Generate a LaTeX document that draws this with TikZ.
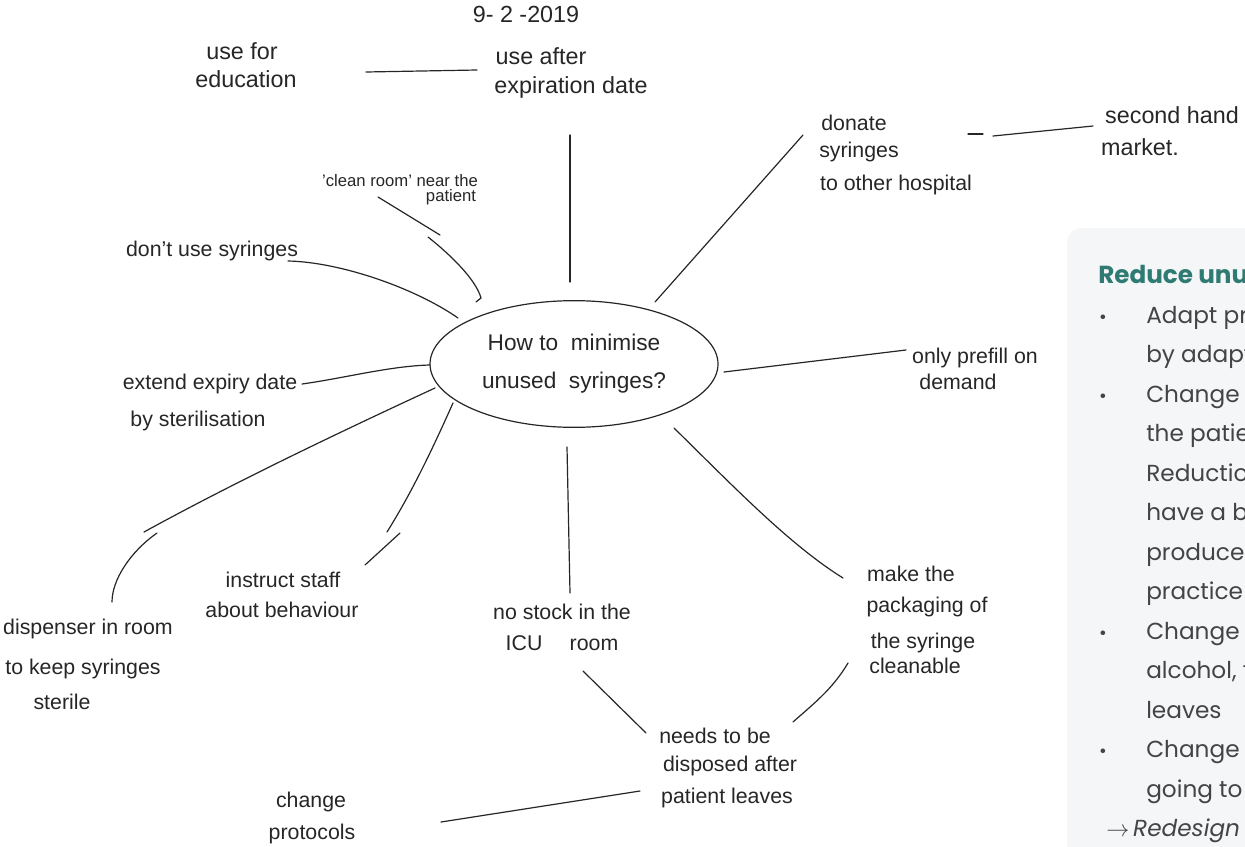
\documentclass[tikz,border=0pt]{standalone}
\usepackage{fontspec}
\setmainfont{Liberation Sans}
\newfontfamily\panelfont{Poppins}
\usetikzlibrary{shapes.geometric}
\definecolor{panelteal}{RGB}{47,122,115}
\definecolor{panelbg}{RGB}{244,246,247}
\definecolor{paneltext}{RGB}{68,68,68}
\definecolor{ink}{RGB}{38,38,38}
\tikzset{
  hand/.style={font=\fontsize{16}{19}\selectfont, text=ink, inner sep=0pt, anchor=base},
  handbig/.style={hand, font=\fontsize{17.5}{20}\selectfont},
  handsm/.style={hand, font=\fontsize{12.5}{15}\selectfont},
  stroke/.style={draw=ink, line width=0.9pt, line cap=round},
  ptext/.style={font=\panelfont\fontsize{17.4}{20}\selectfont, text=paneltext, anchor=base west, inner sep=0pt},
  ptitle/.style={font=\panelfont\bfseries\fontsize{18.5}{21}\selectfont, text=panelteal, anchor=base west, inner sep=0pt},
  pbullet/.style={font=\panelfont\fontsize{14}{16}\selectfont, text=paneltext, anchor=base, inner sep=0pt},
}
\begin{document}
\begin{tikzpicture}[x=0.75pt,y=-0.75pt]
\useasboundingbox (0,0) rectangle (1245,846);
\clip (0,0) rectangle (1245,846);

% right-hand panel
\fill[panelbg, rounded corners=11pt] (1067,228) rectangle (1320,900);
\node[ptitle] (ptitle) at (1098,283) {Reduce unused syringes};
\foreach \t [count=\i] in {Adapt protocols, by adapting, Change the place, the patient, Reduction of, have a big, produced, practice, Change the, {alcohol, the}, leaves, Change the, going to the}
  \node[ptext] (pl\i) at (1146,{316+39.5*(\i-1)+7}) {\t};
\node[pbullet] (b1) at (1103,{316+7}) {•};
\node[pbullet] (b2) at (1103,{316+2*39.5+7}) {•};
\node[pbullet] (b3) at (1103,{316+8*39.5+7}) {•};
\node[pbullet] (b4) at (1103,{316+11*39.5+7}) {•};
\node[ptext] (redesign) at (1106,{316+13*39.5+7}) {$\rightarrow$\,\itshape Redesign the};

% central ellipse
\node[ellipse, draw=ink, line width=0.9pt, minimum width=216pt, minimum height=95pt,
      font=\fontsize{17}{28.5}\selectfont, text=ink, align=center] (q) at (574,364)
      {How to \ minimise\\unused \ syringes?};

% labels
\node[handbig] (date) at (526,22) {9- 2 -2019};
\node[handbig] (edu1) at (242,59) {use for};
\node[handbig] (edu2) at (246,87) {education};
\node[handbig] (exp1) at (541,64) {use after};
\node[handbig] (exp2) at (571,93) {expiration date};
\node[handsm] (clean1) at (400,186) {'clean room' near the};
\node[handsm] (clean2) at (451,201) {patient};
\node[hand] (dont) at (212,256) {don't use syringes};
\node[hand] (ext1) at (210,389) {extend expiry date};
\node[hand] (ext2) at (198,426) {by sterilisation};
\node[hand] (disp1) at (88,634) {dispenser in room};
\node[hand] (disp2) at (83,674) {to keep syringes};
\node[hand] (disp3) at (62,709) {sterile};
\node[hand] (inst1) at (283,587) {instruct staff};
\node[hand] (inst2) at (282,617) {about behaviour};
\node[hand] (stock1) at (562,619) {no stock in the};
\node[hand] (stock2) at (562,650) {ICU \quad room};
\node[hand] (needs1) at (715,743) {needs to be};
\node[hand] (needs2) at (730,771) {disposed after};
\node[hand] (needs3) at (727,803) {patient leaves};
\node[hand] (chg1) at (311,807) {change};
\node[hand] (chg2) at (312,839) {protocols};
\node[hand] (make1) at (911,581) {make the};
\node[hand] (make2) at (927,612) {packaging of};
\node[hand] (make3) at (923,648) {the syringe};
\node[hand] (make4) at (915,673) {cleanable};
\node[hand] (pre1) at (975,363) {only prefill on};
\node[hand] (pre2) at (958,389) {demand};
\node[hand] (don1) at (854,130) {donate};
\node[hand] (don2) at (859,157) {syringes};
\node[hand] (don3) at (896,190) {to other hospital};
\node[handbig] (sec1) at (1172,123) {second hand};
\node[handbig] (sec2) at (1140,155) {market.};

% connector end points
\coordinate (edA) at (366,72);   \coordinate (edB) at (477,70);
\coordinate (topA) at (570,135); \coordinate (topB) at (570,282);
\coordinate (clA) at (378,197);  \coordinate (clB) at (440,235);
\coordinate (clC) at (428,237);  \coordinate (clD) at (481,298); \coordinate (clE) at (476,302);
\coordinate (dnA) at (288,261);  \coordinate (dnB) at (458,318);
\coordinate (exA) at (302,384);  \coordinate (exB) at (430,365);
\coordinate (dsA) at (435,388);  \coordinate (dsB) at (144,532);
\coordinate (dsC) at (157,533);  \coordinate (dsD) at (112,602);
\coordinate (inA) at (453,403);  \coordinate (inB) at (387,532);
\coordinate (inC) at (400,533);  \coordinate (inD) at (365,565);
\coordinate (stA) at (567,447);  \coordinate (stB) at (570,593);
\coordinate (ndA) at (583,671);  \coordinate (ndB) at (646,733);
\coordinate (pkA) at (674,428);  \coordinate (pkB) at (843,578);
\coordinate (pnA) at (848,663);  \coordinate (pnB) at (793,722);
\coordinate (prA) at (724,372);  \coordinate (prB) at (906,350);
\coordinate (doA) at (655,302);  \coordinate (doB) at (803,135);
\coordinate (shA) at (968,134);  \coordinate (shB) at (983,134);
\coordinate (shC) at (993,136);  \coordinate (shD) at (1093,126);
\coordinate (cpA) at (441,822);  \coordinate (cpB) at (640,791);

% connectors
\draw[stroke] (edA) -- (edB);
\draw[stroke] (topA) -- (topB);
\draw[stroke] (clA) -- (clB);
\draw[stroke] (clC) .. controls (452,256) and (476,280) .. (clD) -- (clE);
\draw[stroke] (dnA) .. controls (340,262) and (415,288) .. (dnB);
\draw[stroke] (exA) .. controls (345,378) and (390,366) .. (exB);
\draw[stroke] (dsA) .. controls (340,432) and (235,482) .. (dsB);
\draw[stroke] (dsC) .. controls (130,552) and (112,580) .. (dsD);
\draw[stroke] (inA) .. controls (432,450) and (412,492) .. (inB);
\draw[stroke] (inC) -- (inD);
\draw[stroke] (stA) -- (stB);
\draw[stroke] (ndA) -- (ndB);
\draw[stroke] (pkA) .. controls (735,488) and (790,545) .. (pkB);
\draw[stroke] (pnA) .. controls (832,690) and (812,705) .. (pnB);
\draw[stroke] (prA) -- (prB);
\draw[stroke] (doA) -- (doB);
\draw[stroke] (shA) -- (shB);
\draw[stroke] (shC) -- (shD);
\draw[stroke] (cpA) -- (cpB);
\end{tikzpicture}
\end{document}
